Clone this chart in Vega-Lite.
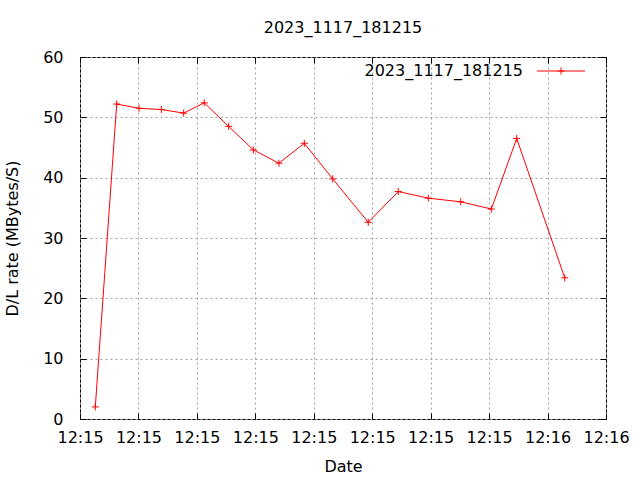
{
  "$schema": "https://vega.github.io/schema/vega-lite/v6.json",
  "width": 526,
  "height": 362,
  "autosize": {"type": "none"},
  "padding": {"left": 80, "top": 57, "right": 34, "bottom": 61},
  "background": "white",
  "title": {"text": "2023_1117_181215", "fontSize": 16, "fontWeight": "normal", "font": "DejaVu Sans", "color": "black", "offset": 13},
  "config": {
    "font": "DejaVu Sans",
    "view": {"stroke": "black", "strokeWidth": 1},
    "axis": {
      "labelFont": "DejaVu Sans", "labelFontSize": 16, "labelColor": "black",
      "titleFont": "DejaVu Sans", "titleFontSize": 16, "titleFontWeight": "normal", "titleColor": "black",
      "domain": false, "tickColor": "black", "tickSize": -6, "tickWidth": 1,
      "gridColor": "#a0a0a0", "gridDash": [2, 3], "gridWidth": 1,
      "labelFlush": false, "labelOverlap": false
    }
  },
  "data": {"values": [
    {"t": 21.31, "rate": 2.0, "series": "2023_1117_181215"},
    {"t": 23.14, "rate": 52.2, "series": "2023_1117_181215"},
    {"t": 25.05, "rate": 51.5, "series": "2023_1117_181215"},
    {"t": 26.96, "rate": 51.3, "series": "2023_1117_181215"},
    {"t": 28.87, "rate": 50.7, "series": "2023_1117_181215"},
    {"t": 30.63, "rate": 52.4, "series": "2023_1117_181215"},
    {"t": 32.72, "rate": 48.5, "series": "2023_1117_181215"},
    {"t": 34.83, "rate": 44.6, "series": "2023_1117_181215"},
    {"t": 37.02, "rate": 42.4, "series": "2023_1117_181215"},
    {"t": 39.19, "rate": 45.7, "series": "2023_1117_181215"},
    {"t": 41.62, "rate": 39.8, "series": "2023_1117_181215"},
    {"t": 44.66, "rate": 32.6, "series": "2023_1117_181215"},
    {"t": 47.23, "rate": 37.7, "series": "2023_1117_181215"},
    {"t": 49.80, "rate": 36.6, "series": "2023_1117_181215"},
    {"t": 52.57, "rate": 36.0, "series": "2023_1117_181215"},
    {"t": 55.19, "rate": 34.8, "series": "2023_1117_181215"},
    {"t": 57.36, "rate": 46.5, "series": "2023_1117_181215"},
    {"t": 61.47, "rate": 23.4, "series": "2023_1117_181215"}
  ]},
  "resolve": {"axis": {"x": "independent", "y": "independent"}},
  "layer": [
    {
      "mark": {"type": "line", "strokeWidth": 1},
      "encoding": {
        "x": {"field": "t", "type": "quantitative", "scale": {"domain": [20, 65], "nice": false, "zero": false},
              "axis": {"title": "Date", "values": [20, 25, 30, 35, 40, 45, 50, 55, 60, 65], "labelExpr": "datum.value < 60 ? '12:15' : '12:16'", "labelPadding": 16, "titlePadding": 13}},
        "y": {"field": "rate", "type": "quantitative", "scale": {"domain": [0, 60], "nice": false},
              "axis": {"title": "D/L rate (MBytes/S)", "values": [0, 10, 20, 30, 40, 50, 60], "labelPadding": 23, "titlePadding": 22}},
        "color": {"field": "series", "type": "nominal", "scale": {"range": ["#ff0000"]},
                  "legend": {"orient": "none", "legendX": 473, "legendY": 6, "title": null, "padding": 0,
                             "symbolType": "M-6.857,0H6.857M-1,0H1M0,-1V1", "symbolSize": 49, "symbolStrokeWidth": 1,
                             "symbolStrokeColor": "#ff0000", "symbolFillColor": "transparent",
                             "labelFontSize": 16, "labelFont": "DejaVu Sans", "labelColor": "black",
                             "labelAlign": "right", "labelOffset": -46, "labelLimit": 300}}
      }
    },
    {
      "mark": {"type": "point", "shape": "M-1,0H1M0,-1V1", "size": 49, "filled": false, "strokeWidth": 1, "color": "#ff0000", "opacity": 1},
      "encoding": {
        "x": {"field": "t", "type": "quantitative", "axis": null},
        "y": {"field": "rate", "type": "quantitative", "axis": null}
      }
    },
    {
      "mark": {"type": "point", "opacity": 0},
      "encoding": {
        "x": {"field": "t", "type": "quantitative",
              "axis": {"orient": "top", "labels": false, "grid": false, "title": null, "values": [20, 25, 30, 35, 40, 45, 50, 55, 60, 65]}},
        "y": {"field": "rate", "type": "quantitative",
              "axis": {"orient": "right", "labels": false, "grid": false, "title": null, "values": [0, 10, 20, 30, 40, 50, 60]}}
      }
    }
  ]
}
